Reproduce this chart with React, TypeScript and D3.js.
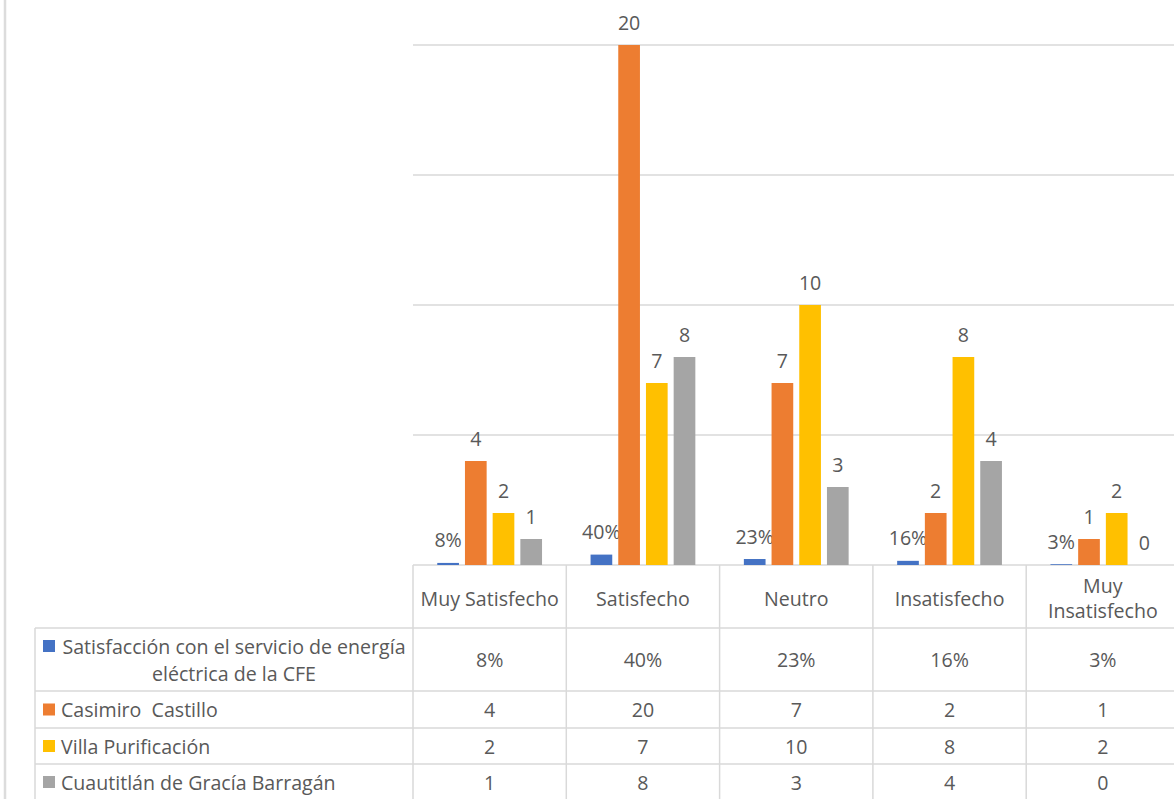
import * as d3 from 'd3'

const WIDTH = 1174
const HEIGHT = 799

const categories = ['Muy Satisfecho', 'Satisfecho', 'Neutro', 'Insatisfecho', 'Muy Insatisfecho']
// header text broken in lines like the original table
const categoryLines = [['Muy Satisfecho'], ['Satisfecho'], ['Neutro'], ['Insatisfecho'], ['Muy', 'Insatisfecho']]

const seriesNames = [
  'Satisfacción con el servicio de energía eléctrica de la CFE',
  'Casimiro  Castillo',
  'Villa Purificación',
  'Cuautitlán de Gracía Barragán',
]
const seriesLegendLines = [
  ['Satisfacción con el servicio de energía', 'eléctrica de la CFE'],
  ['Casimiro  Castillo'],
  ['Villa Purificación'],
  ['Cuautitlán de Gracía Barragán'],
]
const seriesColors = ['#4472c4', '#ed7d31', '#ffc000', '#a5a5a5']

const satisfaccion = [0.08, 0.4, 0.23, 0.16, 0.03]
const casimiro = [4, 20, 7, 2, 1]
const villa = [2, 7, 10, 8, 2]
const cuautitlan = [1, 8, 3, 4, 0]
const seriesValues = [satisfaccion, casimiro, villa, cuautitlan]
const isPercent = [true, false, false, false]

const yTicks = [0, 5, 10, 15, 20]

const PLOT_LEFT = 413
const PLOT_TOP = 45
const BASELINE = 565
const CAT_WIDTH = 153.3
const TABLE_LEFT = 35
// table rows: header, then one row per series
const rowEdges = [565, 628, 691, 728, 764, 800]

const TEXT = '#595959'
const GRID = '#d9d9d9'
const FONT = '"Open Sans", "Noto Sans", sans-serif'
const FS = 19.6

const fmt = (v: number, pct: boolean) => (pct ? `${Math.round(v * 100)}%` : `${v}`)

export default function App() {
  const x0 = d3
    .scaleBand<string>()
    .domain(categories)
    .range([PLOT_LEFT, PLOT_LEFT + CAT_WIDTH * categories.length])
  const x1 = d3
    .scaleBand<number>()
    .domain(d3.range(seriesNames.length))
    .range([0, x0.bandwidth()])
    .paddingInner(0.217)
    .paddingOuter(0.876)
  const y = d3.scaleLinear().domain([0, 20]).range([BASELINE, PLOT_TOP])

  const lineH = 27

  return (
    <svg
      width={WIDTH}
      height={HEIGHT}
      style={{ position: 'absolute', left: 0, top: 0, background: '#fff' }}
      fontFamily={FONT}
    >
      {/* page border on the left */}
      <line x1={5} x2={5} y1={0} y2={HEIGHT} stroke="#dcdcdc" strokeWidth={2.5} />

      {/* gridlines */}
      {yTicks.map((t) => (
        <line key={t} x1={PLOT_LEFT} x2={WIDTH} y1={y(t)} y2={y(t)} stroke={GRID} strokeWidth={1.5} />
      ))}

      {/* bars and data labels */}
      {seriesValues.map((vals, s) => (
        <g key={s}>
          {vals.map((v, i) => {
            const bx = x0(categories[i])! + x1(s)!
            return (
              <g key={i}>
                <rect x={bx} y={y(v)} width={x1.bandwidth()} height={BASELINE - y(v)} fill={seriesColors[s]} />
                <text
                  x={bx + x1.bandwidth() / 2}
                  y={y(v) - 23}
                  textAnchor="middle"
                  dominantBaseline="central"
                  fontSize={FS}
                  fill={TEXT}
                >
                  {fmt(v, isPercent[s])}
                </text>
              </g>
            )
          })}
        </g>
      ))}

      {/* data table: vertical lines */}
      {d3.range(categories.length + 1).map((i) => (
        <line
          key={i}
          x1={PLOT_LEFT + i * CAT_WIDTH}
          x2={PLOT_LEFT + i * CAT_WIDTH}
          y1={rowEdges[0]}
          y2={HEIGHT}
          stroke={GRID}
          strokeWidth={1.5}
        />
      ))}
      <line x1={TABLE_LEFT} x2={TABLE_LEFT} y1={rowEdges[1]} y2={HEIGHT} stroke={GRID} strokeWidth={1.5} />
      {rowEdges.slice(1, -1).map((ry) => (
        <line key={ry} x1={TABLE_LEFT} x2={WIDTH} y1={ry} y2={ry} stroke={GRID} strokeWidth={1.5} />
      ))}

      {/* header row: categories */}
      {categories.map((c, i) => {
        const cx = x0(c)! + x0.bandwidth() / 2
        const cy = (rowEdges[0] + rowEdges[1]) / 2 + 1
        const lines = categoryLines[i]
        return (
          <text key={c} textAnchor="middle" fontSize={FS} fill={TEXT} dominantBaseline="central">
            {lines.map((l, k) => (
              <tspan key={k} x={cx} y={cy + (k - (lines.length - 1) / 2) * 25}>
                {l}
              </tspan>
            ))}
          </text>
        )
      })}

      {/* series rows */}
      {seriesNames.map((name, s) => {
        const top = rowEdges[s + 1]
        const bottom = rowEdges[s + 2]
        const cy = (top + bottom) / 2
        const lines = seriesLegendLines[s]
        const firstY = cy - ((lines.length - 1) / 2) * lineH
        const multi = lines.length > 1
        return (
          <g key={name}>
            <rect x={43} y={firstY - 6} width={12} height={12} fill={seriesColors[s]} />
            {lines.map((l, k) => (
              <text
                key={k}
                x={multi ? 234 : 61}
                y={firstY + k * lineH}
                textAnchor={multi ? 'middle' : 'start'}
                dominantBaseline="central"
                fontSize={FS}
                fill={TEXT}
                xmlSpace="preserve"
              >
                {l}
              </text>
            ))}
            {seriesValues[s].map((v, i) => (
              <text
                key={i}
                x={x0(categories[i])! + x0.bandwidth() / 2}
                y={cy}
                textAnchor="middle"
                dominantBaseline="central"
                fontSize={FS}
                fill={TEXT}
              >
                {fmt(v, isPercent[s])}
              </text>
            ))}
          </g>
        )
      })}
    </svg>
  )
}
